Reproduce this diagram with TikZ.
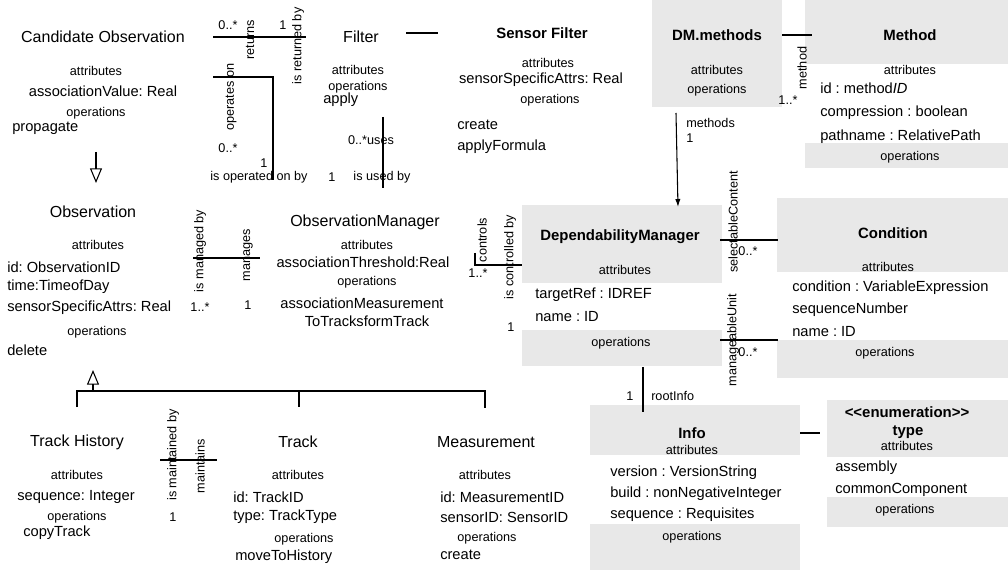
\documentclass[tikz,border=0pt]{standalone}
\usepackage{fontspec}
\setmainfont{Liberation Sans}
\usetikzlibrary{arrows.meta}
\frenchspacing
\begin{document}
\begin{tikzpicture}[x=0.75pt,y=-0.75pt,
  cname/.style={font=\fontsize{12}{14}\selectfont,inner sep=0pt},
  bname/.style={font=\fontsize{11.2}{13}\selectfont\bfseries,inner sep=0pt},
  sect/.style={font=\fontsize{9.5}{11}\selectfont,inner sep=0pt},
  item/.style={font=\fontsize{11}{13}\selectfont,inner sep=0pt},
  litem/.style={item,anchor=west},
  role/.style={font=\fontsize{9.5}{11}\selectfont,inner sep=0pt},
  vrole/.style={role,rotate=90},
  band/.style={fill=black!9,draw=none},
  link/.style={line width=0.8pt},
  gen/.style={link,-{Triangle[open,length=11pt,width=9pt]}}]
\useasboundingbox (0,0) rectangle (1008,574);
% 灰色底纹
\fill[band] (652,0) rectangle (782,107);
\fill[band] (805,0) rectangle (1008,64);
\fill[band] (805,143) rectangle (1008,168);
\fill[band] (522,205) rectangle (722,283);
\fill[band] (522,330) rectangle (722,366);
\fill[band] (777,198) rectangle (1008,272);
\fill[band] (777,340) rectangle (1008,378);
\fill[band] (590,405) rectangle (800,455);
\fill[band] (590,524) rectangle (800,570);
\fill[band] (827,400) rectangle (1008,457);
\fill[band] (827,497) rectangle (1008,527);
% Candidate Observation
\node[cname] (co) at (103,37) {Candidate Observation};
\node[sect] (coA) at (96,71) {attributes};
\node[item] (coV) at (103,91) {associationValue: Real};
\node[sect] (coO) at (96,113) {operations};
\node[litem] (coP) at (12,128) {propagate};
\coordinate (coG1) at (96,152);
\coordinate (coG2) at (96,183);
\draw[gen] (coG1) -- (coG2);
% returns
\coordinate (re1) at (213,37);
\coordinate (re2) at (306,37);
\draw[link] (re1) -- (re2);
\node[role] (reM1) at (228,25) {0..*};
\node[vrole] (reL1) at (250,40) {returns};
\node[role] (reM2) at (283,25) {1};
\node[vrole] (reL2) at (298,46) {is returned by};
% operates on
\coordinate (op1) at (213,77);
\coordinate (op2) at (273,77);
\coordinate (op3) at (273,180);
\draw[link] (op1) -- (op2) -- (op3);
\node[vrole] (opL1) at (231,97) {operates on};
\node[role] (opM1) at (228,148) {0..*};
\node[role] (opM2) at (264,163) {1};
\node[role] (opL2) at (259,177) {is operated on by};
% Filter
\node[cname] (fi) at (361,37) {Filter};
\node[sect] (fiA) at (358,70) {attributes};
\node[sect] (fiO) at (358,87) {operations};
\node[litem] (fiP) at (323,100) {apply};
\coordinate (fs1) at (406,33);
\coordinate (fs2) at (438,33);
\draw[link] (fs1) -- (fs2);
% uses
\coordinate (us1) at (383,117);
\coordinate (us2) at (383,188);
\draw[link] (us1) -- (us2);
\node[role] (usL1) at (371,140) {0..*uses};
\node[role] (usM2) at (332,177) {1};
\node[role] (usL2) at (382,177) {is used by};
% Sensor Filter
\node[bname] (sf) at (542,33) {Sensor Filter};
\node[sect] (sfA) at (548,63) {attributes};
\node[item] (sfV) at (541,80) {sensorSpecificAttrs: Real};
\node[sect] (sfO) at (550,100) {operations};
\node[litem] (sfP1) at (457,125) {create};
\node[litem] (sfP2) at (457,147) {applyFormula};
% DM.methods
\node[bname] (dmm) at (717,35) {DM.methods};
\node[sect] (dmmA) at (717,70) {attributes};
\node[sect] (dmmO) at (717,90) {operations};
\coordinate (mt1) at (782,35);
\coordinate (mt2) at (812,35);
\draw[link] (mt1) -- (mt2);
\node[vrole] (mtL) at (802,68) {method};
\node[role] (mtM) at (788,100) {1..*};
\coordinate (ms1) at (676,113);
\coordinate (ms2) at (678,207);
\draw[link,-{Latex[length=6pt,width=4pt]}] (ms1) -- (ms2);
\node[role,anchor=west] (msL) at (686,123) {methods};
\node[role,anchor=west] (msM) at (686,138) {1};
% Method
\node[bname] (me) at (910,35) {Method};
\node[sect] (meA) at (910,70) {attributes};
\node[litem] (meV1) at (820,88) {id : method\textit{ID}};
\node[litem] (meV2) at (820,113) {compression : boolean};
\node[litem] (meV3) at (820,137) {pathname : RelativePath};
\node[sect] (meO) at (910,157) {operations};
% Observation
\node[cname] (ob) at (93,212) {Observation};
\node[sect] (obA) at (98,245) {attributes};
\node[litem] (obV1) at (7,267) {id: ObservationID};
\node[litem] (obV2) at (7,287) {time:TimeofDay};
\node[litem] (obV3) at (7,308) {sensorSpecificAttrs: Real};
\node[sect] (obO) at (97,332) {operations};
\node[litem] (obP) at (7,350) {delete};
% manages
\coordinate (mg1) at (193,258);
\coordinate (mg2) at (260,258);
\draw[link] (mg1) -- (mg2);
\node[vrole] (mgL1) at (200,251) {is managed by};
\node[vrole] (mgL2) at (248,255) {manages};
\node[role] (mgM1) at (200,307) {1..*};
\node[role] (mgM2) at (248,305) {1};
% ObservationManager
\node[cname] (om) at (365,222) {ObservationManager};
\node[sect] (omA) at (367,245) {attributes};
\node[item] (omV) at (363,262) {associationThreshold:Real};
\node[sect] (omO) at (367,282) {operations};
\node[item] (omP1) at (362,303) {associationMeasurement};
\node[item] (omP2) at (367,321) {ToTracksformTrack};
% controls
\coordinate (ct1) at (475,253);
\coordinate (ct2) at (475,265);
\coordinate (ct3) at (522,265);
\draw[link] (ct1) -- (ct2) -- (ct3);
\node[vrole] (ctL1) at (482,240) {controls};
\node[role] (ctM1) at (478,273) {1..*};
\node[vrole] (ctL2) at (510,257) {is controlled by};
\node[role] (ctM2) at (511,327) {1};
% DependabilityManager
\node[bname] (dm) at (620,237) {DependabilityManager};
\node[sect] (dmA) at (625,270) {attributes};
\node[litem] (dmV1) at (535,295) {targetRef : IDREF};
\node[litem] (dmV2) at (535,317) {name : ID};
\node[sect] (dmO) at (621,343) {operations};
% selectableContent, manageableUnit
\coordinate (sc1) at (720,240);
\coordinate (sc2) at (778,240);
\draw[link] (sc1) -- (sc2);
\node[vrole] (scL) at (733,222) {selectableContent};
\node[role] (scM) at (748,251) {0..*};
\coordinate (mu1) at (720,340);
\coordinate (mu2) at (778,340);
\draw[link] (mu1) -- (mu2);
\node[vrole] (muL) at (733,340) {manageableUnit};
\node[role] (muM) at (748,352) {0..*};
% Condition
\node[bname] (cd) at (893,233) {Condition};
\node[sect] (cdA) at (888,267) {attributes};
\node[litem] (cdV1) at (792,288) {condition : VariableExpression};
\node[litem] (cdV2) at (792,310) {sequenceNumber};
\node[litem] (cdV3) at (792,332) {name : ID};
\node[sect] (cdO) at (885,353) {operations};
% 继承
\coordinate (tr0) at (93,391);
\coordinate (trT) at (93,370);
\coordinate (trL) at (77,391);
\coordinate (trM) at (299,391);
\coordinate (trR) at (485,391);
\coordinate (trL2) at (77,407);
\coordinate (trM2) at (299,407);
\coordinate (trR2) at (485,408);
\draw[link] (trL2) -- (trL) -- (trR) -- (trR2);
\draw[link] (trM) -- (trM2);
\draw[gen] (tr0) -- (trT);
% Track History
\node[cname] (th) at (77,442) {Track History};
\node[sect] (thA) at (77,475) {attributes};
\node[item] (thV) at (76,497) {sequence: Integer};
\node[sect] (thO) at (77,517) {operations};
\node[litem] (thP) at (23,533) {copyTrack};
% maintains
\coordinate (mn1) at (160,460);
\coordinate (mn2) at (217,460);
\draw[link] (mn1) -- (mn2);
\node[vrole] (mnL1) at (173,455) {is maintained by};
\node[vrole] (mnL2) at (200,466) {maintains};
\node[role] (mnM) at (173,517) {1};
% Track
\node[cname] (tk) at (298,442) {Track};
\node[sect] (tkA) at (298,475) {attributes};
\node[litem] (tkV1) at (233,497) {id: TrackID};
\node[litem] (tkV2) at (233,517) {type: TrackType};
\node[sect] (tkO) at (304,539) {operations};
\node[litem] (tkP) at (235,557) {moveToHistory};
% Measurement
\node[cname] (mm) at (486,442) {Measurement};
\node[sect] (mmA) at (485,475) {attributes};
\node[litem] (mmV1) at (440,497) {id: MeasurementID};
\node[litem] (mmV2) at (440,517) {sensorID: SensorID};
\node[sect] (mmO) at (487,538) {operations};
\node[litem] (mmP) at (440,555) {create};
% rootInfo
\coordinate (ri1) at (643,367);
\coordinate (ri2) at (643,412);
\draw[link] (ri1) -- (ri2);
\node[role] (riM) at (630,396) {1};
\node[role,anchor=west] (riL) at (651,396) {rootInfo};
% Info
\node[bname] (in) at (692,433) {Info};
\node[sect] (inA) at (692,450) {attributes};
\node[litem] (inV1) at (610,473) {version : VersionString};
\node[litem] (inV2) at (610,494) {build : nonNegativeInteger};
\node[litem] (inV3) at (610,515) {sequence : Requisites};
\node[sect] (inO) at (692,537) {operations};
\coordinate (it1) at (800,433);
\coordinate (it2) at (820,433);
\draw[link] (it1) -- (it2);
% type
\node[bname] (ty0) at (907,412) {<\kern0pt<enumeration>\kern0pt>};
\node[bname] (ty) at (908,432) {type};
\node[sect] (tyA) at (907,446) {attributes};
\node[litem] (tyV1) at (835,468) {assembly};
\node[litem] (tyV2) at (835,490) {commonComponent};
\node[sect] (tyO) at (905,510) {operations};
\end{tikzpicture}
\end{document}
